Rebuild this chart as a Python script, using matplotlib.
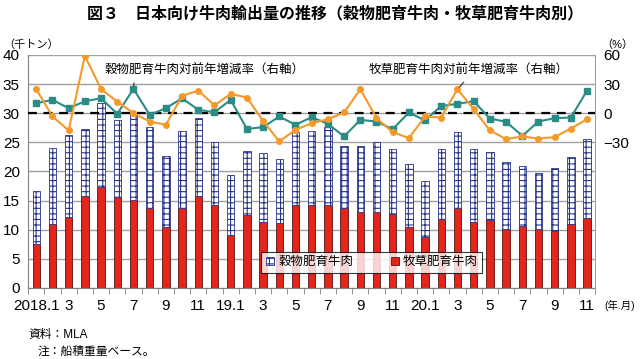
#!/usr/bin/env python
# coding: utf-8

import numpy as np
from matplotlib import pyplot as plt

plt.rcParams['font.family'] = ['Liberation Sans', 'Noto Sans CJK JP']
plt.rcParams['hatch.linewidth'] = 0.8

# monthly data, 2018.1 - 2020.11 (千トン / %)
tick_labels = ['2018.1', '3', '5', '7', '9', '11', '19.1', '3', '5', '7', '9', '11',
               '20.1', '3', '5', '7', '9', '11']

grass_fed = [7.6, 10.9, 12.2, 15.8, 17.3, 15.6, 15.1, 13.7, 10.4, 13.7, 15.8, 14.3,
             9.1, 12.5, 11.3, 11.1, 14.3, 14.2, 14.2, 13.8, 13.0, 13.1, 12.7, 10.5,
             8.7, 11.9, 13.8, 11.4, 11.7, 10.1, 10.7, 10.1, 9.8, 11.0, 12.0]
total = [16.6, 24.0, 26.2, 27.3, 31.8, 28.9, 29.9, 27.6, 22.7, 26.9, 29.1, 25.0,
         19.4, 23.5, 23.1, 22.2, 26.7, 26.9, 27.6, 24.4, 24.4, 25.1, 23.9, 21.3,
         18.3, 23.8, 26.7, 23.8, 23.4, 21.7, 20.9, 19.7, 20.6, 22.5, 25.5]
grain_fed = [t - g for t, g in zip(total, grass_fed)]

grain_yoy = [10.3, 13.7, 5.1, 12.3, 15.4, -0.7, 25.0, -1.7, 5.1, 15.4, 3.4, 1.0,
             13.7, -16.2, -14.4, -3.4, -12.0, -4.1, -11.0, -24.0, -6.9, -8.6, -16.5, 0.7,
             -7.5, 7.5, 9.6, 12.3, -5.5, -8.9, -23.3, -8.6, -5.1, -4.5, 23.3]
grass_yoy = [24.7, -3.4, -17.8, 59.0, 24.7, 12.0, 0.0, -8.6, -12.0, 17.8, 23.3, 8.0,
             19.9, 16.1, -7.9, -29.1, -17.1, -10.3, -6.2, 0.7, 24.7, -5.1, -19.5, -25.7,
             -3.4, -4.5, 24.7, 4.1, -17.8, -26.7, -24.0, -26.1, -24.7, -15.8, -6.2]

RED = '#e2261c'
NAVY = '#28348a'
TEAL = '#2a8c86'
ORANGE = '#f5992a'

fig = plt.figure(figsize=(6.4, 3.59), dpi=100)
ax = fig.add_axes([0.044, 0.198, 0.886, 0.649])
x = np.arange(len(total))

red_bars = ax.bar(x, grass_fed, width=0.45, color=RED, edgecolor='#5a1010',
                  linewidth=0.6, label='牧草肥育牛肉', zorder=2)
grid_bars = ax.bar(x, grain_fed, width=0.45, bottom=grass_fed, color='white',
                   edgecolor=NAVY, hatch='+++', linewidth=0.6, label='穀物肥育牛肉',
                   zorder=2)

ax.set_xlim(-0.5, len(total) - 0.5)
ax.set_ylim(0, 40)
ax.set_yticks(range(0, 41, 5))
ax.set_axisbelow(True)
ax.yaxis.grid(True, color='#a0a0a0', linewidth=1.0)
ax.set_xticks(x[::2])
ax.set_xticklabels(tick_labels, fontsize=11)
ax.tick_params(axis='x', which='major', length=0, pad=8)
ax.set_xticks(np.arange(-0.5, len(total), 1), minor=True)
ax.tick_params(axis='x', which='minor', length=4, color='#808080', direction='out')
ax.tick_params(axis='y', length=0, labelsize=11, pad=6)
for s in ('top', 'right'):
    ax.spines[s].set_visible(False)
ax.spines['left'].set_color('#808080')
ax.spines['bottom'].set_color('#808080')

leg = ax.legend(handles=[grid_bars, red_bars], loc='center',
                bbox_to_anchor=(0.606, 0.11), ncol=2, fontsize=9,
                frameon=True, fancybox=False, handlelength=0.7, handleheight=0.7,
                columnspacing=3.0, borderpad=0.35, handletextpad=0.3)
leg.get_frame().set_edgecolor('black')
leg.get_frame().set_linewidth(0.8)

ax2 = ax.twinx()
ax2.plot(x, grain_yoy, '-s', color=TEAL, markersize=4, linewidth=1.5, zorder=3)
ax2.plot(x, grass_yoy, '-o', color=ORANGE, markersize=4, linewidth=1.5, zorder=3)
ax2.axhline(0, color='black', linestyle='--', linewidth=1.6, dashes=(4, 3), zorder=2)
ax2.set_ylim(-180, 60)
ax2.set_yticks([-30, 0, 30, 60])
ax2.set_yticklabels(['\u221230', '0', '30', '60'])
ax2.tick_params(axis='y', length=0, labelsize=11, pad=6)
for s in ('top', 'left', 'bottom'):
    ax2.spines[s].set_visible(False)
ax2.spines['right'].set_color('#a0a0a0')

ax2.annotate('穀物肥育牛肉対前年増減率（右軸）', xy=(6, grain_yoy[6]),
             xytext=(0.311, 0.93), textcoords='axes fraction', fontsize=9,
             ha='center', va='center',
             arrowprops=dict(arrowstyle='-', color='#303030', lw=0.8,
                             relpos=(0.15, 0.0), shrinkA=2, shrinkB=2))
ax2.annotate('牧草肥育牛肉対前年増減率（右軸）', xy=(26, grass_yoy[26]),
             xytext=(0.776, 0.93), textcoords='axes fraction', fontsize=9,
             ha='center', va='center',
             arrowprops=dict(arrowstyle='-', color='#303030', lw=0.8,
                             relpos=(0.5, 0.0), shrinkA=2, shrinkB=2))

fig.text(0.523, 0.962, '図３　日本向け牛肉輸出量の推移（穀物肥育牛肉・牧草肥育牛肉別）',
         ha='center', va='center', fontsize=11.5, fontweight='bold')
fig.text(0.005, 0.875, '（千トン）', fontsize=8, ha='left', va='center')
fig.text(0.99, 0.875, '（%）', fontsize=8, ha='right', va='center')
fig.text(0.944, 0.148, '(年.月)', fontsize=7.5, ha='left', va='center')
fig.text(0.044, 0.067, '資料：MLA', fontsize=8.5, ha='left', va='center')
fig.text(0.058, 0.020, '注：船積重量ベース。', fontsize=8.5, ha='left', va='center')

plt.savefig('out.png', dpi=100)
